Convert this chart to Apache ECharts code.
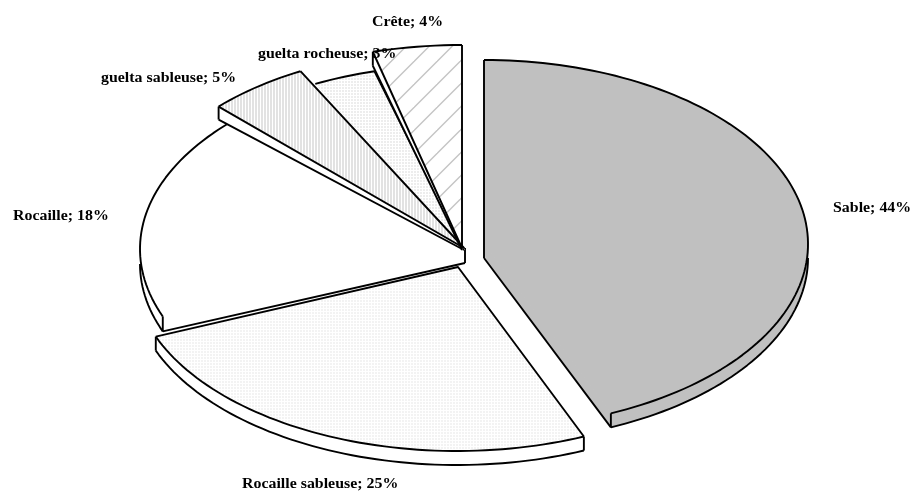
<!DOCTYPE html>
<html>
<head>
<meta charset="utf-8">
<style>html,body{margin:0;padding:0;background:#fff}#chart{width:912px;height:491px}</style>
<script src="https://cdn.jsdelivr.net/npm/echarts@6/dist/echarts.min.js"></script>
</head>
<body>
<div id="chart"></div>
<script>
// Habitat shares, clockwise from twelve o'clock.
const categories = ['Sable', 'Rocaille sableuse', 'Rocaille', 'guelta sableuse', 'guelta rocheuse', 'Crête'];
const shares = [44, 25, 18, 5, 3, 4];

// Tilted-pie layout for each slice: ellipse centre and radii, tip, wall height.
const layout = {
  'Sable':             { cx: 484, cy: 244, rx: 324, ry: 184, tip: [484, 244], drop: 14, wall: 'end' },
  'Rocaille sableuse': { cx: 457, cy: 270, rx: 324, ry: 181, tip: [458, 267], drop: 14, wall: null },
  'Rocaille':          { cx: 464, cy: 249, rx: 324, ry: 183, tip: [465, 248], drop: 15, wall: 'start' },
  'guelta sableuse':   { cx: 437, cy: 240, rx: 310, ry: 188, tip: [464, 248], drop: 13, tipDrop: 2, wall: 'start' },
  'guelta rocheuse':   { cx: 458, cy: 250, rx: 324, ry: 185, tip: [463, 248], drop: 0, wall: null },
  'Crête':             { cx: 462, cy: 245, rx: 346, ry: 200, tip: [462, 248], drop: 14, tipDrop: 2, wall: 'start' }
};
// Painting order: far slices first so nearer walls cover them.
const paintOrder = ['Rocaille', 'guelta rocheuse', 'guelta sableuse', 'Crête', 'Rocaille sableuse', 'Sable'];
// Label anchors (left edge, vertical middle).
const labelAnchors = {
  'Sable': [833, 208], 'Rocaille sableuse': [242, 484], 'Rocaille': [13, 216],
  'guelta sableuse': [101, 78], 'guelta rocheuse': [258, 54], 'Crête': [372, 22]
};

function tile(w, h, draw) {
  const c = document.createElement('canvas');
  c.width = w; c.height = h;
  const g = c.getContext('2d');
  g.fillStyle = '#fff';
  g.fillRect(0, 0, w, h);
  draw(g);
  return { image: c, repeat: 'repeat' };
}
const fills = {
  'Sable': '#c0c0c0',
  'Rocaille': '#fff',
  'Rocaille sableuse': tile(3, 3, g => { g.fillStyle = '#f3f3f3'; g.fillRect(0, 0, 2, 2); }),
  'guelta rocheuse': tile(3, 3, g => { g.fillStyle = '#ededed'; g.fillRect(0, 0, 2, 2); }),
  'guelta sableuse': tile(3, 1, g => { g.fillStyle = '#e2e2e2'; g.fillRect(0, 0, 2, 1); }),
  'Crête': tile(23, 23, g => {
    g.strokeStyle = '#c4c4c4'; g.lineWidth = 1.4;
    [15.5, 38.5, -7.5].forEach(k => { g.beginPath(); g.moveTo(k + 2, -2); g.lineTo(k - 25, 25); g.stroke(); });
  })
};

const total = shares.reduce((a, b) => a + b, 0);
const rad = d => d * Math.PI / 180;
// The tilted view squeezes angles slightly on the near side.
const view = d => d - 3.1 * Math.sin(rad(d / 2));

function sweep(index) {
  let from = 0;
  for (let i = 0; i < index; i++) from += shares[i];
  return [view(from / total * 360), view((from + shares[index]) / total * 360)];
}
function arcPoints(p, a, b, dy) {
  const pts = [], n = Math.max(2, Math.ceil(Math.abs(b - a) / 1.5));
  for (let i = 0; i <= n; i++) {
    const t = rad(a + (b - a) * i / n);
    pts.push([p.cx + p.rx * Math.sin(t), p.cy - p.ry * Math.cos(t) + dy]);
  }
  return pts;
}
const ink = { stroke: '#000', lineWidth: 1.9, fill: null, lineJoin: 'round' };
const line = pts => ({ type: 'polyline', shape: { points: pts }, style: Object.assign({}, ink), silent: true });
// Solid faces get a hairline of their own colour so neighbouring faces leave no seam.
const area = (pts, fill) => ({
  type: 'polygon', shape: { points: pts },
  style: { fill: fill, stroke: typeof fill === 'string' ? fill : null, lineWidth: 1 }, silent: true
});

function sliceShapes(name) {
  const p = layout[name], idx = categories.indexOf(name);
  const [a, b] = sweep(idx);
  const rim = arcPoints(p, a, b, 0);
  const first = rim[0], last = rim[rim.length - 1];
  const tip = p.tip, d = p.drop, tipLow = [tip[0], tip[1] + (p.tipDrop === undefined ? d : p.tipDrop)];
  const wallFill = name === 'Sable' ? '#c0c0c0' : '#fff';
  const out = [];

  // Outer wall along the near half of the ellipse.
  const wa = Math.max(a, 90), wb = Math.min(b, 270);
  let lowRim = null;
  if (d && wb > wa) {
    const hi = arcPoints(p, wa, wb, 0);
    lowRim = arcPoints(p, wa, wb, d);
    out.push(area(hi.concat(lowRim.slice().reverse()), wallFill));
  }
  // Cut wall on the radial edge that faces the viewer.
  const cut = p.wall === 'start' ? first : p.wall === 'end' ? last : null;
  if (cut) out.push(area([tip, cut, [cut[0], cut[1] + d], tipLow], wallFill));

  out.push(area([tip].concat(rim), fills[name]));

  out.push(line(rim));
  if (lowRim) out.push(line(lowRim));
  if (cut) {
    out.push(line([cut, [cut[0], cut[1] + d]]));
    out.push(line([tipLow, [cut[0], cut[1] + d]]));
  }
  if (name === 'Sable') {
    out.push(line([tipLow, first]));
  } else if (name === 'Rocaille') {
    out.push(line([tip, tipLow]));
  } else if (name === 'guelta rocheuse') {
    // Its other edge lies under the neighbouring slice.
    out.push(line([tip, last]));
  } else {
    out.push(line([first, tip, last]));
  }
  if (name === 'Rocaille sableuse') {
    out.push(line([first, [first[0], first[1] + d]]));
    out.push(line([last, [last[0], last[1] + d]]));
  }
  return out;
}

const chart = echarts.init(document.getElementById('chart'), null, { renderer: 'canvas' });
chart.setOption({
  animation: false,
  backgroundColor: '#fff',
  series: [
    {
      type: 'custom',
      coordinateSystem: 'none',
      silent: true,
      data: paintOrder.map(n => [categories.indexOf(n), shares[categories.indexOf(n)]]),
      renderItem: (params, api) => ({ type: 'group', children: sliceShapes(categories[api.value(0)]) })
    },
    {
      type: 'custom',
      coordinateSystem: 'none',
      silent: true,
      z: 5,
      data: categories.map((c, i) => [i, shares[i]]),
      renderItem: (params, api) => {
        const name = categories[api.value(0)], at = labelAnchors[name];
        return {
          type: 'text',
          x: at[0],
          y: at[1],
          scaleX: 1.06,
          style: {
            x: 0, y: 0,
            text: name + '; ' + api.value(1) + '%',
            font: 'bold 15px "Liberation Serif"',
            fill: '#000',
            textAlign: 'left',
            textVerticalAlign: 'middle'
          }
        };
      }
    }
  ]
});
</script>
</body>
</html>
